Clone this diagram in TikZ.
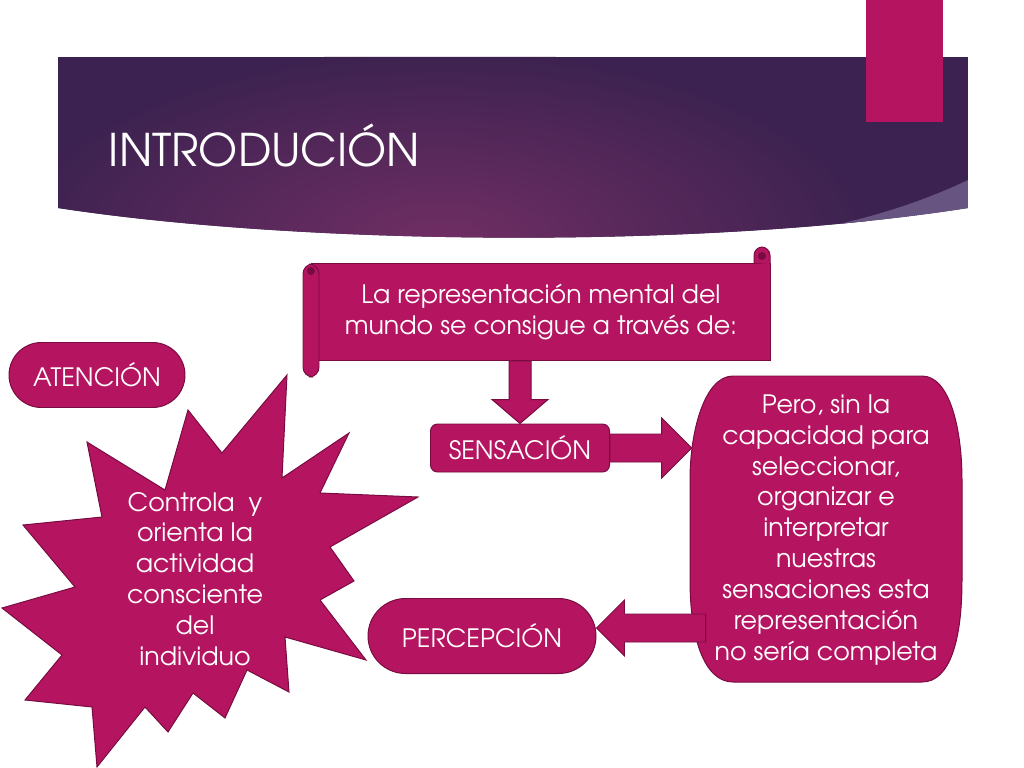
\documentclass[tikz,border=0pt]{standalone}
\usepackage{fontspec}
\setmainfont{TeX Gyre Adventor}
\usetikzlibrary{positioning,calc,shapes.misc}

\definecolor{fucsia}{RGB}{180,20,96}
\definecolor{fucsiaborde}{RGB}{120,12,64}
\definecolor{bandaoscura}{RGB}{60,34,80}
\definecolor{bandamedia}{RGB}{112,46,100}
\definecolor{bandaclara}{RGB}{104,84,128}

\tikzset{
  figura/.style={fill=fucsia, draw=fucsiaborde, line width=0.7pt},
  texto/.style={text=white, align=center, font=\fontsize{18}{22}\selectfont},
  pastilla/.style={figura, texto, rounded rectangle, inner sep=0pt},
  flecha/.style={figura, line join=miter}
}

\begin{document}
\begin{tikzpicture}[x=0.025cm, y=-0.025cm]
    \useasboundingbox (0,0) rectangle (1024,768);

    % Banda del titulo
    \begin{scope}
        \clip (58,57) -- (968,57) -- (968,208) .. controls (700,250) and (300,245) .. (58,208) -- cycle;
        \fill[bandaoscura] (58,57) rectangle (968,250);
        \shade[inner color=bandamedia, outer color=bandaoscura] (440,240) ellipse (430 and 190);
        \fill[bandaclara] (968,180) .. controls (880,222) and (780,240) .. (650,252) -- (968,260) -- cycle;
    \end{scope}
    \fill[fucsia] (866,0) rectangle (943,122);
    \node[anchor=west, text=white, font=\fontsize{32}{38}\selectfont] (titulo) at (104,145) {INTRODUCIÓN};

    % Pergamino
    \draw[figura] (311,263) -- (770,263) -- (770,360) -- (311,360) -- cycle;
    \draw[figura, rounded corners=6] (754,263) -- (754,247) -- (770,247) -- (770,264);
    \fill[fucsiaborde] (762,256) circle (4);
    \draw[figura, rounded corners=7] (303,264) rectangle (319,377);
    \fill[fucsiaborde] (311,271) circle (4);
    \node[texto, minimum width=452*0.025cm, minimum height=97*0.025cm] (mundo) at (541,312)
        {La representación mental del\\mundo se consigue a través de:};

    % Estrella
    \draw[figura] (287,375) -- (282,478) -- (349,433) -- (320,493) -- (418,497)
        -- (330,547) -- (354,581) -- (320,600) -- (366,660) -- (285,637)
        -- (289,692) -- (247,670) -- (225,718) -- (193,693) -- (168,732)
        -- (145,707) -- (97,767) -- (92,707) -- (25,700) -- (62,655)
        -- (2,608) -- (75,587) -- (23,525) -- (102,517) -- (87,442)
        -- (165,490) -- (188,410) -- (222,453) -- cycle;
    \node[texto] (controla) at (195,579)
        {Controla\ \ y\\orienta la\\actividad\\consciente\\del\\individuo};

    % Cajas
    \node[pastilla, minimum width=176*0.025cm, minimum height=65*0.025cm] (atencion) at (97,375) {ATENCIÓN};
    \node[figura, texto, rounded corners=5, inner sep=0pt, minimum width=179*0.025cm, minimum height=48*0.025cm] (sensacion) at (520,448) {SENSACIÓN};
    \node[pastilla, minimum width=228*0.025cm, minimum height=75*0.025cm] (percepcion) at (482,636) {PERCEPCIÓN};

    \draw[figura] (733,376) -- (922,376) .. controls (950,376) and (962,430) .. (962,480)
        -- (962,580) .. controls (962,640) and (950,682) .. (922,682)
        -- (733,682) .. controls (705,682) and (690,640) .. (690,580)
        -- (690,480) .. controls (690,430) and (705,376) .. (733,376) -- cycle;
    \node[texto, minimum width=272*0.025cm, minimum height=306*0.025cm] (pero) at (826,530)
        {Pero, sin la\\capacidad para\\seleccionar,\\organizar e\\interpretar\\nuestras\\sensaciones esta\\representación\\no sería completa};

    % Flechas
    \coordinate (bajada) at (sensacion.north |- mundo.south);
    \draw[flecha] ($(bajada)+(-11,0)$) -- ($(sensacion.north)+(-11,-24)$) -- ($(sensacion.north)+(-28,-24)$)
        -- (sensacion.north) -- ($(sensacion.north)+(28,-24)$) -- ($(sensacion.north)+(11,-24)$)
        -- ($(bajada)+(11,0)$) -- cycle;
    \coordinate (punta1) at ($(pero.west |- sensacion.east)+(2,0)$);
    \draw[flecha] ($(sensacion.east)+(0,-14)$) -- ($(punta1)+(-30,-14)$) -- ($(punta1)+(-30,-30)$)
        -- (punta1) -- ($(punta1)+(-30,30)$) -- ($(punta1)+(-30,14)$)
        -- ($(sensacion.east)+(0,14)$) -- cycle;
    \coordinate (salida) at ($(pero.west |- percepcion.east)+(16,-8)$);
    \coordinate (punta2) at ($(percepcion.east)+(0,-8)$);
    \draw[flecha] ($(salida)+(0,-14)$) -- ($(punta2)+(28,-14)$) -- ($(punta2)+(28,-28)$)
        -- (punta2) -- ($(punta2)+(28,28)$) -- ($(punta2)+(28,14)$)
        -- ($(salida)+(0,14)$) -- cycle;
\end{tikzpicture}
\end{document}
